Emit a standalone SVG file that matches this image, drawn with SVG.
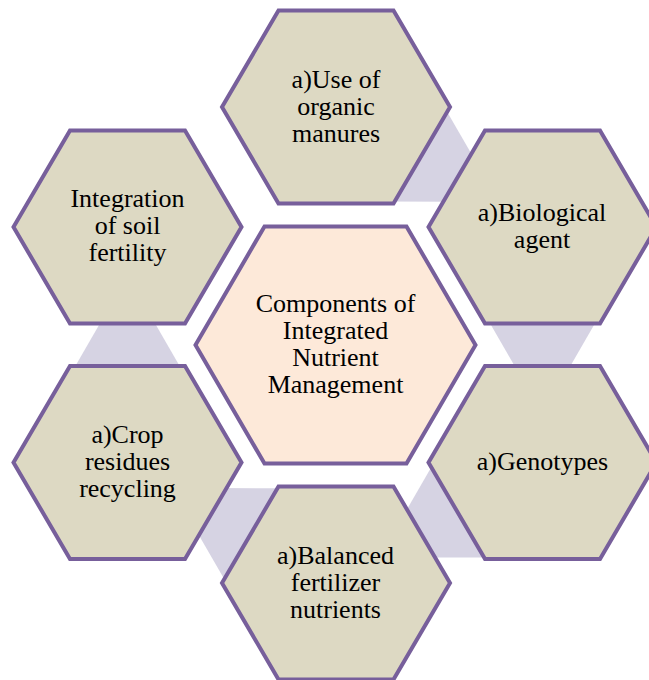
<svg xmlns="http://www.w3.org/2000/svg" width="649" height="680" viewBox="0 0 649 680">
<style>
.hex{fill:#DDD9C3;stroke:#775F9B;stroke-width:4;stroke-linejoin:miter}
.hub{fill:#FDE9D9;stroke:#775F9B;stroke-width:4;stroke-linejoin:miter}
.con{fill:#D6D3E3;stroke:none}
.t{font-family:"Times New Roman",Tinos,"Liberation Serif","Nimbus Roman","Nimbus Roman No9 L",FreeSerif,"DejaVu Serif","Noto Serif",Times,serif;font-size:26px;fill:#000;text-anchor:middle}
</style>
<rect width="649" height="680" fill="#FFFFFF"/>
<g id="connectors">
<polygon class="con" points="384.4,201.6 441.7,102.4 476.3,162.3 453.6,201.7"/>
<polygon class="con" points="485.2,315 599.8,315 565.2,375 519.8,375"/>
<polygon class="con" points="493.9,557.4 436.6,458.1 401.9,518.1 424.6,557.4"/>
<polygon class="con" points="229.1,587.4 286.4,488.2 217.1,488.1 194.4,527.4"/>
<polygon class="con" points="70.2,375 184.8,375 150.2,315 104.8,315"/>
</g>
<g id="hub">
<polygon class="hub" points="264.5,226.5 406.5,226.5 475.5,345 406.5,463.5 264.5,463.5 195.5,345"/>
<text class="t" x="335.5" y="312">Components of</text>
<text class="t" x="335.5" y="339">Integrated</text>
<text class="t" x="335.5" y="366">Nutrient</text>
<text class="t" x="335.5" y="393">Management</text>
</g>
<g id="organic-manures">
<polygon class="hex" points="278.5,10.5 393.5,10.5 450,107 393.5,203.5 278.5,203.5 222,107"/>
<text class="t" x="336" y="88">a)Use of</text>
<text class="t" x="336" y="115">organic</text>
<text class="t" x="336" y="142">manures</text>
</g>
<g id="biological-agent">
<polygon class="hex" points="485,130.5 600,130.5 656.5,227 600,323.5 485,323.5 428.5,227"/>
<text class="t" x="542" y="221">a)Biological</text>
<text class="t" x="542" y="248">agent</text>
</g>
<g id="genotypes">
<polygon class="hex" points="485,366 600,366 656.5,462.5 600,559 485,559 428.5,462.5"/>
<text class="t" x="542.5" y="470">a)Genotypes</text>
</g>
<g id="balanced-fertilizer">
<polygon class="hex" points="278.5,486.5 393.5,486.5 450,583 393.5,679.5 278.5,679.5 222,583"/>
<text class="t" x="335.5" y="564">a)Balanced</text>
<text class="t" x="335.5" y="591">fertilizer</text>
<text class="t" x="335.5" y="618">nutrients</text>
</g>
<g id="crop-residues">
<polygon class="hex" points="70,366 185,366 241.5,462.5 185,559 70,559 13.5,462.5"/>
<text class="t" x="127.5" y="443">a)Crop</text>
<text class="t" x="127.5" y="470">residues</text>
<text class="t" x="127.5" y="497">recycling</text>
</g>
<g id="soil-fertility">
<polygon class="hex" points="70,130.5 185,130.5 241.5,227 185,323.5 70,323.5 13.5,227"/>
<text class="t" x="127.5" y="207">Integration</text>
<text class="t" x="127.5" y="234">of soil</text>
<text class="t" x="127.5" y="261">fertility</text>
</g>
</svg>
